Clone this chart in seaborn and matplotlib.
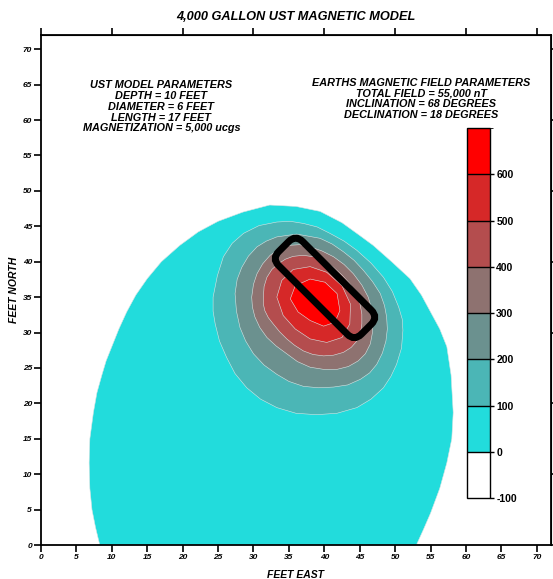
import matplotlib
matplotlib.use("Agg")
import matplotlib.pyplot as plt
import matplotlib.transforms as mtransforms
import seaborn as sns
from matplotlib.colors import ListedColormap, BoundaryNorm
from matplotlib.cm import ScalarMappable
from matplotlib.patches import FancyBboxPatch

# colour bands (nT)
levels = [-100, 0, 100, 200, 300, 400, 500, 600, 700]
band_colors = ["#ffffff", "#22dcdc", "#4bb6b6", "#6b918f",
               "#8e7270", "#b44d4e", "#d62828", "#ff0000"]

# contour outlines, feet east / feet north
c0_x = [8.3, 7.7, 7.2, 6.9, 6.8, 6.9, 7.4, 7.9, 8.6, 9.2, 10.0, 11.0, 12.1,
        13.4, 15.0, 17.0, 19.6, 22.2, 25.0, 28.5, 32.3, 36.0, 39.4, 42.5,
        45.0, 46.9, 49.5, 52.1, 53.7, 55.0, 56.3, 57.3, 57.9, 58.2, 58.0,
        57.3, 56.3, 55.0, 54.0, 53.0]
c0_y = [0.0, 2.5, 5.0, 8.0, 11.6, 15.0, 18.7, 21.5, 24.0, 26.0, 28.0, 30.5,
        32.9, 35.3, 37.6, 40.0, 42.3, 44.2, 45.7, 47.0, 48.0, 47.8, 47.1,
        45.5, 43.7, 42.3, 40.0, 37.6, 35.3, 32.9, 30.5, 28.0, 24.0, 18.7,
        15.0, 11.6, 8.0, 4.5, 2.2, 0.0]

c100_x = [24.3, 24.9, 25.75, 27.0, 28.6, 30.8, 33.3, 35.2, 37.05, 39.0, 40.8,
          42.8, 44.6, 46.6, 48.35, 49.6, 50.5, 51.0, 51.1, 50.9, 50.2, 49.4,
          48.35, 46.6, 44.6, 41.8, 38.9, 36.0, 33.3, 31.0, 29.05, 27.4, 26.2,
          25.2, 24.6, 24.3]
c100_y = [35.0, 38.0, 40.7, 42.6, 44.0, 45.1, 45.6, 45.7, 45.4, 44.9, 44.0,
          42.9, 41.6, 39.8, 37.8, 35.8, 33.6, 31.9, 30.3, 27.8, 25.5, 23.8,
          22.2, 20.6, 19.4, 18.6, 18.4, 18.6, 19.4, 20.6, 22.2, 24.2, 26.5,
          28.8, 31.2, 33.0]

c200_x = [27.4, 27.7, 28.35, 29.3, 30.5, 31.8, 33.3, 36.1, 39.4, 41.1, 42.7,
          44.2, 45.5, 46.8, 47.9, 48.5, 48.8, 48.9, 48.7, 48.2, 47.4, 46.4,
          45.1, 43.3, 41.3, 39.2, 37.05, 35.0, 33.3, 31.5, 30.0, 28.9, 28.1,
          27.6]
c200_y = [35.5, 37.5, 39.2, 40.8, 42.1, 42.9, 43.5, 43.9, 43.3, 42.5, 41.4,
          40.2, 38.8, 37.2, 35.5, 33.8, 32.2, 30.5, 28.8, 27.1, 25.5, 24.3,
          23.4, 22.6, 22.3, 22.2, 22.4, 23.1, 24.1, 25.4, 27.0, 28.8, 30.7,
          33.0]

c300_x = [29.75, 30.0, 30.5, 31.3, 32.35, 33.6, 34.9, 36.5, 38.0, 39.7, 41.3,
          42.8, 44.1, 45.3, 46.2, 46.7, 46.9, 46.8, 46.5, 45.8, 44.8, 43.4,
          41.8, 39.9, 38.0, 36.2, 34.7, 33.2, 31.9, 30.9, 30.2, 29.85]
c300_y = [35.0, 36.8, 38.3, 39.7, 40.9, 41.8, 42.3, 42.4, 42.1, 41.5, 40.7,
          39.6, 38.3, 36.7, 35.0, 33.3, 31.7, 30.0, 28.4, 27.0, 26.0, 25.2,
          24.8, 24.8, 25.1, 25.9, 27.0, 28.1, 29.3, 30.7, 32.2, 33.6]

c400_x = [31.4, 31.5, 31.9, 32.6, 33.5, 34.5, 35.6, 37.0, 38.5, 40.0, 41.3,
          42.5, 43.6, 44.45, 45.05, 45.3, 45.3, 45.1, 44.6, 43.8, 42.7, 41.3,
          39.9, 38.4, 37.05, 35.8, 34.7, 33.7, 32.8, 32.1, 31.6, 31.4]
c400_y = [35.0, 36.5, 37.8, 38.9, 39.7, 40.35, 40.75, 40.9, 40.7, 40.1, 39.2,
          38.1, 36.9, 35.5, 34.0, 32.6, 31.2, 29.9, 28.8, 27.9, 27.2, 26.8,
          26.7, 26.9, 27.4, 28.2, 29.1, 30.1, 31.2, 32.1, 33.1, 34.0]

c500_x = [33.3, 34.0, 35.6, 38.0, 40.35, 42.5, 43.7, 43.6, 42.5, 40.35,
          38.0, 35.9, 34.2]
c500_y = [35.0, 37.35, 38.9, 39.3, 38.5, 36.6, 34.0, 31.2, 29.3, 28.6,
          29.1, 30.5, 32.4]

c600_x = [35.2, 35.9, 38.0, 40.1, 41.8, 42.2, 41.5, 39.9, 38.0, 36.3]
c600_y = [34.75, 36.6, 37.55, 37.1, 35.5, 33.1, 31.45, 30.9, 31.7, 32.9]

contour_levels = [0, 100, 200, 300, 400, 500, 600]
contour_x = [c0_x, c100_x, c200_x, c300_x, c400_x, c500_x, c600_x]
contour_y = [c0_y, c100_y, c200_y, c300_y, c400_y, c500_y, c600_y]

# tank outline (plan view)
tank_center = (40.1, 36.3)
tank_length = 16.5
tank_width = 4.8
tank_angle = -45

model_text = ("UST MODEL PARAMETERS\nDEPTH = 10 FEET\nDIAMETER = 6 FEET\n"
              "LENGTH = 17 FEET\nMAGNETIZATION = 5,000 ucgs")
field_text = ("EARTHS MAGNETIC FIELD PARAMETERS\nTOTAL FIELD = 55,000 nT\n"
              "INCLINATION = 68 DEGREES\nDECLINATION = 18 DEGREES")

sns.set_style("ticks")
plt.rcParams["font.family"] = ["Liberation Sans", "DejaVu Sans"]
plt.rcParams.update({"text.color": "black", "axes.labelcolor": "black",
                     "xtick.color": "black", "ytick.color": "black",
                     "axes.edgecolor": "black", "axes.unicode_minus": False})

fig = plt.figure(figsize=(5.53, 5.79), dpi=100)
ax = fig.add_axes([0.0741, 0.0587, 0.9222, 0.8808])

cmap = ListedColormap(band_colors)
norm = BoundaryNorm(levels, cmap.N)

for lev, xs, ys in zip(contour_levels, contour_x, contour_y):
    ax.fill(xs, ys, color=cmap(norm(lev + 1)), ec="#d8e4e4", lw=0.4,
            joinstyle="round", zorder=2)

tr = mtransforms.Affine2D().rotate_deg(tank_angle).translate(*tank_center) + ax.transData
tank = FancyBboxPatch((-tank_length / 2, -tank_width / 2), tank_length, tank_width,
                      boxstyle="round,pad=0,rounding_size=1.4",
                      fc="none", ec="black", lw=5, transform=tr, zorder=4)
ax.add_patch(tank)

ax.text(17.0, 65.7, model_text, ha="center", va="top", fontsize=7.8,
        fontweight="bold", fontstyle="italic", linespacing=1.12, zorder=5)
ax.text(53.7, 66.0, field_text, ha="center", va="top", fontsize=7.8,
        fontweight="bold", fontstyle="italic", linespacing=1.12, zorder=5)

ax.set_xlim(0, 72)
ax.set_ylim(0, 72)
ax.set_xticks(range(0, 71, 5))
ax.set_yticks(range(0, 71, 5))
ax.tick_params(direction="out", length=5, width=1.2, pad=1.5, labelsize=6)
for lab in ax.get_xticklabels() + ax.get_yticklabels():
    lab.set_fontweight("bold")
    lab.set_fontstyle("italic")
for sp in ax.spines.values():
    sp.set_linewidth(1.3)
    sp.set_visible(True)

secx = ax.secondary_xaxis("top")
secx.set_xticks(range(0, 71, 10))
secx.set_xticklabels([])
secx.tick_params(direction="out", length=5, width=1.2)
secy = ax.secondary_yaxis("right")
secy.set_yticks(range(0, 71, 10))
secy.set_yticklabels([])
secy.tick_params(direction="out", length=5, width=1.2)

ax.set_xlabel("FEET EAST", fontsize=7.5, fontweight="bold", fontstyle="italic", labelpad=6.5)
ax.set_ylabel("FEET NORTH", fontsize=7.5, fontweight="bold", fontstyle="italic", labelpad=2.5)
ax.set_title("4,000 GALLON UST MAGNETIC MODEL", fontsize=9.2, fontweight="bold",
             fontstyle="italic", pad=11)

cax = fig.add_axes([0.8445, 0.1399, 0.0416, 0.639])
sm = ScalarMappable(norm=norm, cmap=cmap)
cb = fig.colorbar(sm, cax=cax, ticks=levels[:-1], drawedges=True)
cb.outline.set_linewidth(1.0)
cb.dividers.set_linewidth(1.0)
cb.dividers.set_color("black")
cax.tick_params(direction="out", length=3, width=1, pad=1.5, labelsize=7.5)
for lab in cax.get_yticklabels():
    lab.set_fontweight("bold")

fig.savefig("out.png", dpi=100)
